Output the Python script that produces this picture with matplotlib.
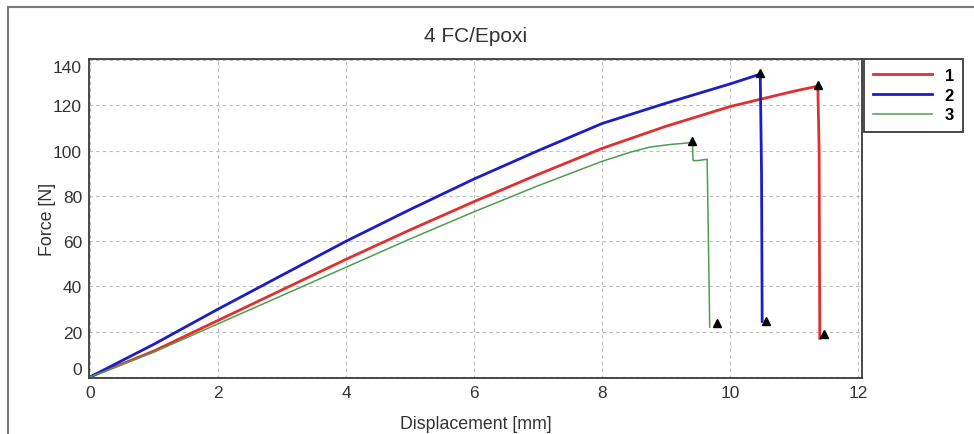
import matplotlib.pyplot as plt
from matplotlib.lines import Line2D

plt.rcParams['font.family'] = ['Liberation Sans', 'DejaVu Sans']

# specimen 1
disp_1 = [0, 1, 2, 3, 4, 5, 6, 7, 8, 9, 10, 11, 11.37, 11.39, 11.40]
force_1 = [0, 11.5, 25, 38.5, 52, 65, 77.5, 89.5, 101, 110.8, 119.5, 126.3, 128.5, 100, 17]

# specimen 2
disp_2 = [0, 1, 2, 3, 4, 5, 6, 7, 8, 9, 10, 10.47, 10.49, 10.50]
force_2 = [0, 14.5, 30, 45, 60, 74, 87.5, 100, 112, 121, 129.5, 133.8, 90, 24.5]

# specimen 3
disp_3 = [0, 1, 2, 3, 4, 5, 6, 7, 8, 8.44, 8.75, 9.06, 9.38, 9.41, 9.42, 9.50, 9.64, 9.66, 9.68]
force_3 = [0, 11, 23.5, 36, 48.5, 61, 73, 84.5, 95.3, 99.3, 101.6, 102.7, 103.5, 104, 95.6, 95.6, 96.2, 60, 22]

# peak and break markers
mark_x = [11.37, 11.47, 10.47, 10.56, 9.41, 9.79]
mark_y = [128.8, 19, 134.2, 24.5, 104.3, 24]

labels = ["1", "2", "3"]
colors = ["#e03030", "#1c1cc8", "#4e9e4e"]
widths = [2.0, 2.0, 1.1]

fig = plt.figure(figsize=(9.74, 4.35), dpi=100)
ax = fig.add_axes([89/974, 1 - 379/435, (862 - 89)/974, (379 - 60)/435])

series = [(disp_1, force_1), (disp_2, force_2), (disp_3, force_3)]
for (x, y), lab, c, w in zip(series, labels, colors, widths):
    ax.plot(x, y, color=c, lw=w, label=lab, zorder=3)
ax.plot(mark_x, mark_y, ls="none", marker="^", color="black", ms=5.5, zorder=4)

ax.set_xlim(-0.02, 12.06)
ax.set_ylim(-0.5, 140.5)
ax.set_xticks(range(0, 13, 2))
ax.set_yticks(range(0, 141, 20))
ax.grid(True, color="#bdbdbd", ls=(0, (3, 3)), lw=0.8)
ax.tick_params(length=0, labelsize=12.5, labelcolor="#333333", pad=5)
for s in ax.spines.values():
    s.set_color("#3a3a3a")
    s.set_linewidth(1.3)

# end labels on the y axis sit inside the frame
ylabs = ax.get_yticklabels()
ylabs[-1].set_va("top")
ylabs[0].set_va("bottom")

ax.set_title("4 FC/Epoxi", fontsize=15, color="#333333", pad=13)
ax.set_xlabel("Displacement [mm]", fontsize=12.8, color="#333333", labelpad=11)
ax.set_ylabel("Force [N]", fontsize=12.8, color="#333333", labelpad=-2)

leg = fig.legend(loc="upper left", bbox_to_anchor=(864/974, 1 - 60/435),
                 fancybox=False, edgecolor="#3a3a3a", framealpha=1,
                 prop={"weight": "bold", "size": 12}, handlelength=3.5,
                 labelspacing=0.28, borderpad=0.55, handletextpad=0.8,
                 borderaxespad=0)
leg.get_frame().set_linewidth(1.3)

# outer panel border
fig.add_artist(Line2D([8/974, 1], [1 - 8/435, 1 - 8/435], color="#7a7a7a", lw=1.5))
fig.add_artist(Line2D([8/974, 8/974], [0, 1 - 8/435], color="#7a7a7a", lw=1.5))

fig.savefig("out.png", dpi=100)
